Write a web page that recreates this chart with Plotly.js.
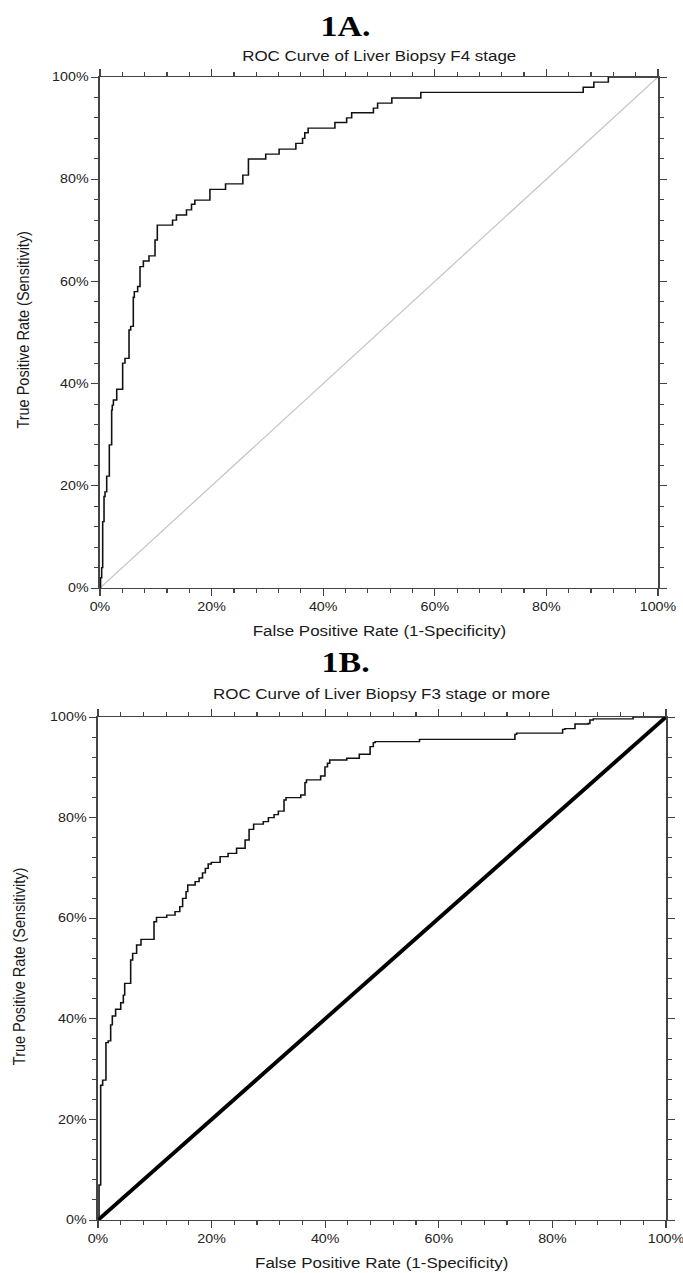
<!DOCTYPE html>
<html>
<head>
<meta charset="utf-8">
<script src="https://cdn.plot.ly/plotly-3.0.1.min.js"></script>
<style>
  html, body { margin: 0; padding: 0; background: #ffffff; overflow: hidden; }
  #chart { width: 584px; height: 1273px; transform: scaleX(1.16952); transform-origin: 0 0; }
</style>
</head>
<body>
<div id="chart"></div>
<script>
// ---- Data ----
const tickValues = [0, 0.2, 0.4, 0.6, 0.8, 1.0];
const tickLabels = ['0%', '20%', '40%', '60%', '80%', '100%'];

const panelLabels = ['1A.', '1B.'];
const chartTitles = ['ROC Curve of Liver Biopsy F4 stage', 'ROC Curve of Liver Biopsy F3 stage or more'];
const xAxisTitle = 'False Positive Rate (1-Specificity)';
const yAxisTitle = 'True Positive Rate (Sensitivity)';

// 1A: F4 stage ROC (step curve)
const fprF4 = [0, 0.001, 0.003, 0.0048, 0.0072, 0.009, 0.012, 0.0167, 0.0209, 0.022,
  0.024, 0.030, 0.0406, 0.0448, 0.052, 0.055, 0.0597, 0.0615, 0.0675, 0.0717,
  0.0777, 0.0878, 0.0986, 0.1027, 0.130, 0.137, 0.155, 0.164, 0.170, 0.197,
  0.225, 0.256, 0.266, 0.297, 0.321, 0.351, 0.363, 0.367, 0.373, 0.421,
  0.442, 0.451, 0.490, 0.4975, 0.523, 0.575, 0.866, 0.885, 0.911, 1.0];
const tprF4 = [0, 0.02, 0.04, 0.13, 0.179, 0.188, 0.219, 0.280, 0.348, 0.358,
  0.368, 0.389, 0.440, 0.4495, 0.505, 0.512, 0.569, 0.580, 0.590, 0.629,
  0.640, 0.650, 0.681, 0.710, 0.720, 0.730, 0.740, 0.751, 0.759, 0.780,
  0.791, 0.808, 0.8395, 0.849, 0.859, 0.870, 0.880, 0.891, 0.900, 0.911,
  0.920, 0.930, 0.939, 0.949, 0.959, 0.970, 0.980, 0.990, 1.0, 1.0];

// 1B: F3 stage or more ROC (step curve)
const fprF3 = [0, 0.0018, 0.0047, 0.0082, 0.014, 0.018, 0.0223, 0.0252, 0.031, 0.040,
  0.0446, 0.047, 0.0575, 0.061, 0.068, 0.0757, 0.0986, 0.103, 0.121, 0.1356,
  0.144, 0.149, 0.155, 0.158, 0.171, 0.178, 0.184, 0.189, 0.194, 0.1995,
  0.215, 0.229, 0.244, 0.259, 0.266, 0.274, 0.291, 0.300, 0.310, 0.3175,
  0.3275, 0.331, 0.357, 0.3644, 0.367, 0.392, 0.3996, 0.404, 0.408, 0.438,
  0.460, 0.479, 0.4847, 0.488, 0.566, 0.734, 0.737, 0.818, 0.822, 0.8398,
  0.863, 0.866, 0.872, 0.942, 1.0];
const tprF3 = [0, 0.0696, 0.268, 0.278, 0.3525, 0.356, 0.388, 0.4056, 0.419, 0.432,
  0.447, 0.4705, 0.517, 0.530, 0.5467, 0.558, 0.593, 0.6017, 0.606, 0.613,
  0.623, 0.6395, 0.6527, 0.666, 0.6726, 0.680, 0.690, 0.699, 0.7077, 0.711,
  0.7223, 0.729, 0.739, 0.7555, 0.7767, 0.787, 0.792, 0.800, 0.806, 0.813,
  0.835, 0.8396, 0.845, 0.8695, 0.875, 0.8827, 0.901, 0.908, 0.9145, 0.918,
  0.926, 0.941, 0.949, 0.951, 0.9556, 0.9655, 0.968, 0.9755, 0.977, 0.986,
  0.987, 0.994, 0.9963, 1.0, 1.0];

// Reference (chance) diagonal
const diagX = [0, 1];
const diagY = [0, 1];

// ---- Styling ----
const SANS = 'Liberation Sans, Arial, sans-serif';
const SERIF = 'Liberation Serif, Times New Roman, serif';
const AX = '#444444';

function xAxis(domain, anchor) {
  return {
    domain: domain, anchor: anchor, range: [0, 1],
    tickmode: 'array', tickvals: tickValues, ticktext: tickLabels,
    ticks: 'outside', ticklen: 7, tickwidth: 1, tickcolor: AX,
    minor: { dtick: 0.04, tick0: 0, ticks: 'outside', ticklen: 4, tickwidth: 1, tickcolor: AX, showgrid: false },
    showline: true, linecolor: AX, linewidth: 1.3, mirror: 'allticks',
    showgrid: false, zeroline: false, fixedrange: true,
    ticklabeloverflow: 'allow',
    tickfont: { family: SANS, size: 12.2, color: '#222' }
  };
}
function yAxis(domain, anchor) {
  return {
    domain: domain, anchor: anchor, range: [0, 1],
    tickmode: 'array', tickvals: tickValues, ticktext: tickLabels,
    ticks: 'outside', ticklen: 6, tickwidth: 1, tickcolor: AX,
    minor: { dtick: 0.04, tick0: 0, ticks: 'outside', ticklen: 3.5, tickwidth: 1, tickcolor: AX, showgrid: false },
    showline: true, linecolor: AX, linewidth: 1.3, mirror: 'allticks',
    showgrid: false, zeroline: false, fixedrange: true,
    ticklabeloverflow: 'allow',
    tickfont: { family: SANS, size: 12.2, color: '#222' }
  };
}

const H = 1273, W = 683;
function py(pix) { return 1 - pix / H; }
function px(pix) { return pix / W; }

const traces = [
  { x: diagX, y: diagY, xaxis: 'x', yaxis: 'y', mode: 'lines',
    line: { color: '#c2c2c2', width: 1.1 }, hoverinfo: 'skip' },
  { x: fprF4, y: tprF4, xaxis: 'x', yaxis: 'y', mode: 'lines',
    line: { color: '#111111', width: 1.35, shape: 'hv' }, name: 'F4' },
  { x: diagX, y: diagY, xaxis: 'x2', yaxis: 'y2', mode: 'lines',
    line: { color: '#000000', width: 3.6 }, hoverinfo: 'skip' },
  { x: fprF3, y: tprF3, xaxis: 'x2', yaxis: 'y2', mode: 'lines',
    line: { color: '#111111', width: 1.35, shape: 'hv' }, name: 'F3+' }
];

const titleFont = { family: SANS, size: 14.5, color: '#1a1a1a' };
const panelFont = { family: SERIF, size: 29, color: '#000000', weight: 'bold' };

const annotations = [
  { text: '<b>' + panelLabels[0] + '</b>', x: px(346), y: py(26), font: panelFont },
  { text: chartTitles[0], x: px(380), y: py(56), font: titleFont },
  { text: xAxisTitle, x: px(380), y: py(631), font: titleFont },
  { text: yAxisTitle, x: px(23), y: py(330), font: titleFont, textangle: -90 },
  { text: '<b>' + panelLabels[1] + '</b>', x: px(346), y: py(662), font: panelFont },
  { text: chartTitles[1], x: px(382), y: py(694), font: titleFont },
  { text: xAxisTitle, x: px(382), y: py(1263), font: titleFont },
  { text: yAxisTitle, x: px(19), y: py(966), font: titleFont, textangle: -90 }
].map(a => Object.assign({ xref: 'paper', yref: 'paper', xanchor: 'center', yanchor: 'middle', showarrow: false }, a));

const layout = {
  width: 584, height: 1273,
  margin: { l: 0, r: 0, t: 0, b: 0, pad: 0 },
  paper_bgcolor: '#ffffff', plot_bgcolor: '#ffffff',
  showlegend: false,
  xaxis: xAxis([px(100), px(658)], 'y'),
  yaxis: yAxis([py(588), py(77)], 'x'),
  xaxis2: xAxis([px(98), px(666)], 'y2'),
  yaxis2: yAxis([py(1220), py(717)], 'x2'),
  annotations: annotations
};

Plotly.newPlot('chart', traces, layout, { displayModeBar: false, staticPlot: true });
</script>
</body>
</html>
